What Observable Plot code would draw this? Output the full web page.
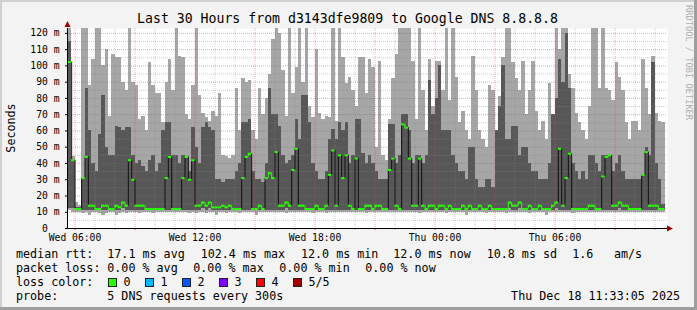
<!DOCTYPE html>
<html><head><meta charset="utf-8">
<script src="https://cdn.jsdelivr.net/npm/d3@7"></script>
<script src="https://cdn.jsdelivr.net/npm/@observablehq/plot@0.6"></script>
<style>html,body{margin:0;padding:0;background:#f3f3f3}svg{display:block}</style>
</head><body><div id="chart"></div>
<script>
// ---- data (10-minute bins starting Wed 17 Dec 2025 05:40 UTC), values in ms ----
const hiVals = [
123,44,16,14,123,123,88,104,123,123,100,110,69,107,105,105,90,85,123,90,
88,67,69,60,102,88,83,83,65,90,104,85,123,106,105,70,67,88,123,82,
71,68,66,72,69,83,45,44,43,45,86,60,92,90,91,60,55,86,70,80,
95,116,123,120,97,69,123,83,99,123,90,123,75,68,110,71,67,69,68,123,
66,123,105,89,93,85,75,105,105,83,104,99,50,103,45,42,67,92,107,123,
123,123,123,103,67,123,85,60,104,75,103,103,85,123,79,123,93,65,72,60,
55,106,85,60,55,50,88,85,60,81,105,123,123,102,92,85,103,70,85,103,
72,60,66,55,89,70,123,110,123,123,95,86,71,65,60,55,75,123,123,86,
123,86,85,79,102,93,85,65,55,66,66,60,104,86,70,106,71,66,65];
const p4Vals = [
115,42,13,13,31,86,60,40,35,58,82,50,45,45,63,62,60,62,62,45,
40,42,38,35,42,45,35,40,60,65,65,45,45,40,45,44,35,62,50,40,
62,65,62,60,30,30,28,30,30,30,35,40,65,65,67,35,30,30,28,40,
86,70,70,63,45,40,42,45,67,55,82,82,65,40,35,30,30,35,55,61,
55,65,60,65,40,45,67,67,46,40,45,40,35,30,30,30,64,64,40,45,
70,70,60,40,45,45,40,45,91,70,80,100,60,60,60,45,40,35,35,30,
50,50,30,25,25,30,30,25,60,75,100,55,55,63,63,45,50,50,40,35,
35,30,30,30,40,70,80,104,90,120,86,40,35,30,35,30,45,45,40,35,
45,45,45,35,40,45,35,30,30,30,30,30,33,50,45,102,40,30,15];
const medVals = [
102.4,42,12,12,31,44,14,14,12,12,14,14,12,12,14,13,16,14,42,30,
14,14,14,12,12,12,12,12,12,31,44,12,12,12,31,44,30,42,14,14,
16,14,16,13,13,13,14,13,14,12,12,12,31,44,46,12,12,14,12,31,
34,31,47,14,14,16,14,36,49,14,14,12,12,12,14,12,12,14,33,48,
14,45,31,45,14,12,43,12,12,14,14,12,14,14,12,12,36,43,14,12,
64,62,43,14,14,43,14,12,14,14,12,14,14,12,14,12,12,12,14,12,
14,12,12,14,12,12,14,12,12,12,12,12,16,14,14,16,12,12,14,12,
12,14,12,12,12,14,16,49,14,31,46,12,12,12,12,12,14,14,12,12,
32,44,45,14,14,16,14,14,12,12,12,12,33,47,14,14,14,12,12];
const loVals = [
11,10,10,10,9,10,8,10,10,9,8,9,10,10,8,9,10,9,10,10,
10,9,10,10,10,9,10,10,10,10,10,10,10,10,10,10,9,10,9,10,
10,9,10,10,8,10,10,9,10,10,10,9,10,10,10,10,8,10,10,10,
10,10,10,10,10,9,10,10,10,10,10,10,10,9,10,10,10,9,10,10,
10,10,10,10,10,10,10,10,10,9,10,10,10,10,10,10,10,10,10,10,
10,10,10,10,10,9,10,10,10,10,10,10,10,9,10,10,10,10,10,8,
10,10,10,10,10,9,10,10,10,10,10,9,10,10,10,10,10,10,9,10,
10,10,10,8,10,10,10,10,10,10,10,9,10,10,10,10,10,10,10,10,
10,10,10,10,10,10,10,10,10,10,10,10,10,10,10,10,10,10,10];
const p2Vals = [
12,12,11,11,11,11,11,11,11,11,11,11,11,11,11,11,12,11,11,11,
11,11,11,11,11,11,11,11,11,11,11,11,11,11,11,11,11,11,11,11,
12,11,12,11,11,11,11,11,11,11,11,11,11,11,11,11,11,11,11,11,
11,11,11,11,11,12,11,11,11,11,11,11,11,11,11,11,11,11,11,11,
11,11,11,11,11,11,11,11,11,11,11,11,11,11,11,11,11,11,11,11,
11,11,11,11,11,11,11,11,11,11,11,11,11,11,11,11,11,11,11,11,
11,11,11,11,11,11,11,11,11,11,11,11,12,11,11,12,11,11,11,11,
11,11,11,11,11,11,12,11,11,11,11,11,11,11,11,11,11,11,11,11,
11,11,11,11,11,12,11,11,11,11,11,11,11,11,11,11,11,11,11];

const yTicks = [0,10,20,30,40,50,60,70,80,90,100,110,120];
const yTickLabels = ["0\u00a0\u00a0","10 m","20 m","30 m","40 m","50 m","60 m","70 m","80 m","90 m","100 m","110 m","120 m"];
const xTickTimes = ["2025-12-17T06:00Z","2025-12-17T12:00Z","2025-12-17T18:00Z","2025-12-18T00:00Z","2025-12-18T06:00Z"];
const xTickLabels = ["Wed 06:00","Wed 12:00","Wed 18:00","Thu 00:00","Thu 06:00"];

const titleText = "Last 30 Hours from d3143dfe9809 to Google DNS 8.8.8.8";
const yLabelText = "Seconds";
const sideText = "RRDTOOL / TOBI OETIKER";
const rowLabels = ["median rtt:", "packet loss:", "loss color:", "probe:"];
const rttStats = ["17.1 ms avg", "102.4 ms max", "12.0 ms min", "12.0 ms now", "10.8 ms sd", "1.6", "am/s"];
const lossStats = ["0.00 % avg", "0.00 % max", "0.00 % min", "0.00 % now"];
const lossLabels = ["0", "1", "2", "3", "4", "5/5"];
const lossColors = ["#26ff00", "#00b8ff", "#0059ff", "#7e00ff", "#ff0000", "#a10000"];
const probeText = "5 DNS requests every 300s";
const stampText = "Thu Dec 18 11:33:05 2025";

// ---- build ----
const T0 = Date.UTC(2025, 11, 17, 5, 40);
const STEP = 10 * 60 * 1000;
const data = hiVals.map((hi, i) => ({
  t: new Date(T0 + i * STEP), t2: new Date(T0 + (i + 1) * STEP),
  hi, p4: p4Vals[i], med: medVals[i], lo: loVals[i], p2: p2Vals[i]
}));
const connectors = [];
for (let i = 1; i < data.length; i++) {
  if (data[i].med !== data[i - 1].med) {
    connectors.push({t: data[i].t, a: data[i - 1].med, b: data[i].med,
      big: Math.abs(data[i].med - data[i - 1].med) > 5});
  }
}
const xStart = new Date(Date.UTC(2025, 11, 17, 5, 37, 30));
const xEnd = new Date(Date.UTC(2025, 11, 18, 11, 37, 30));
const xArrow = new Date(Date.UTC(2025, 11, 18, 11, 43, 30));
const hours = d3.utcHour.range(new Date(Date.UTC(2025, 11, 17, 6)), xEnd);
const major3h = hours.filter(d => d.getUTCHours() % 3 === 0);
const minorH = hours.filter(d => d.getUTCHours() % 3 !== 0);
const yMinor = d3.range(5, 123, 10);
const yMajor = d3.range(10, 123, 10);
const xTickDates = xTickTimes.map(s => new Date(s));
const xLabelMap = new Map(xTickDates.map((d, i) => [+d, xTickLabels[i]]));
const yLabelMap = new Map(yTicks.map((v, i) => [v, yTickLabels[i]]));

const triUp = {draw(c) { c.moveTo(0, -3.5); c.lineTo(3, 2.5); c.lineTo(-3, 2.5); c.closePath(); }};
const triRight = {draw(c) { c.moveTo(3.5, 0); c.lineTo(-2.5, -3); c.lineTo(-2.5, 3); c.closePath(); }};

const FONT = "'DejaVu Sans Mono', monospace";
const svg = Plot.plot({
  width: 697, height: 310,
  marginLeft: 67, marginRight: 30, marginTop: 28, marginBottom: 82,
  style: {background: "#f3f3f3", fontFamily: FONT, fontSize: "9.7px", color: "black"},
  x: {type: "utc", domain: [xStart, xEnd]},
  y: {domain: [0, 123]},
  marks: [
    Plot.frame({fill: "white", stroke: null}),
    Plot.rect(data, {x1: "t", x2: "t2", y1: "lo", y2: "hi", fill: "#a6a6a6", clip: true, shapeRendering: "crispEdges"}),
    Plot.rect(data, {x1: "t", x2: "t2", y1: "p2", y2: "p4", fill: "#575757", clip: true, shapeRendering: "crispEdges"}),
    Plot.ruleY(yMinor, {stroke: "#8c8c8c", strokeOpacity: 0.45, strokeDasharray: "1,1"}),
    Plot.ruleX(minorH, {stroke: "#8c8c8c", strokeOpacity: 0.45, strokeDasharray: "1,1"}),
    Plot.ruleY(yMajor, {stroke: "#ff3030", strokeOpacity: 0.45, strokeDasharray: "1,1"}),
    Plot.ruleX(major3h, {stroke: "#ff3030", strokeOpacity: 0.45, strokeDasharray: "1,1"}),
    Plot.ruleX(connectors, {x: "t", y1: "a", y2: "b", stroke: d => d.big ? "#111" : "#26ff00", strokeWidth: 1}),
    Plot.ruleY(data, {y: "med", x1: "t", x2: "t2", stroke: "#26ff00", strokeWidth: 2}),
    Plot.axisX({ticks: minorH, tickSize: 2, tickFormat: () => "", stroke: "#aaaaaa"}),
    Plot.axisX({ticks: major3h, tickSize: 2, tickFormat: () => "", stroke: "#ff3030"}),
    Plot.axisX({ticks: xTickDates, tickSize: 0, tickPadding: 6, tickFormat: d => xLabelMap.get(+d)}),
    Plot.axisY({ticks: yTicks, tickSize: 2, tickPadding: 6, tickFormat: d => yLabelMap.get(d)}),
    Plot.ruleX([xStart], {y1: 0, y2: 123, stroke: "black"}),
    Plot.ruleY([0], {x1: xStart, x2: xArrow, stroke: "black"}),
    Plot.dot([{x: xStart, y: 123}], {x: "x", y: "y", symbol: triUp, r: 3, fill: "#a00000", stroke: null, dy: -4}),
    Plot.dot([{x: xArrow, y: 0}], {x: "x", y: "y", symbol: triRight, r: 3, fill: "#a00000", stroke: null})
  ]
});
document.getElementById("chart").appendChild(svg);

const s = d3.select(svg);
// 3D border
s.append("rect").attr("x", 0).attr("y", 0).attr("width", 697).attr("height", 2).attr("fill", "#d0d0d0");
s.append("rect").attr("x", 0).attr("y", 0).attr("width", 2).attr("height", 310).attr("fill", "#d0d0d0");
s.append("rect").attr("x", 0).attr("y", 307).attr("width", 697).attr("height", 3).attr("fill", "#9e9e9e");
s.append("rect").attr("x", 694).attr("y", 0).attr("width", 3).attr("height", 310).attr("fill", "#9e9e9e");

function txt(x, y, str, size, opts = {}) {
  const t = s.append("text").attr("x", x).attr("y", y)
    .attr("font-family", FONT).attr("font-size", size)
    .attr("fill", opts.fill || "black")
    .attr("text-anchor", opts.anchor || "start")
    .style("white-space", "pre").text(str);
  if (opts.transform) t.attr("transform", opts.transform).attr("x", null).attr("y", null);
  return t;
}
txt(347.5, 23, titleText, "13.2px", {anchor: "middle"});
txt(0, 0, yLabelText, "11.7px", {anchor: "middle", transform: "translate(15,128) rotate(-90)"});
txt(0, 0, sideText, "8.7px", {fill: "#b0b0b0", transform: "translate(686,5) rotate(90)"});

const LF = "11.7px";
const rowY = [258, 272, 286, 300];
rowLabels.forEach((l, i) => txt(16, rowY[i], l, LF));
const rttX = [107.3, 200.7, 301, 393.3, 486.7, 572.3, 614];
rttStats.forEach((l, i) => txt(rttX[i], rowY[0], l, LF));
const lossX = [107.3, 193.3, 279.3, 365.3];
lossStats.forEach((l, i) => txt(lossX[i], rowY[1], l, LF));
lossLabels.forEach((l, i) => {
  const bx = 108.5 + 37 * i;
  s.append("rect").attr("x", bx).attr("y", 278.5).attr("width", 8).attr("height", 8)
    .attr("fill", lossColors[i]).attr("stroke", "#222").attr("stroke-width", 1);
  txt(bx + 15, rowY[2], l, LF);
});
txt(107.3, rowY[3], probeText, LF);
txt(680, rowY[3], stampText, LF, {anchor: "end"});
</script>
</body></html>
